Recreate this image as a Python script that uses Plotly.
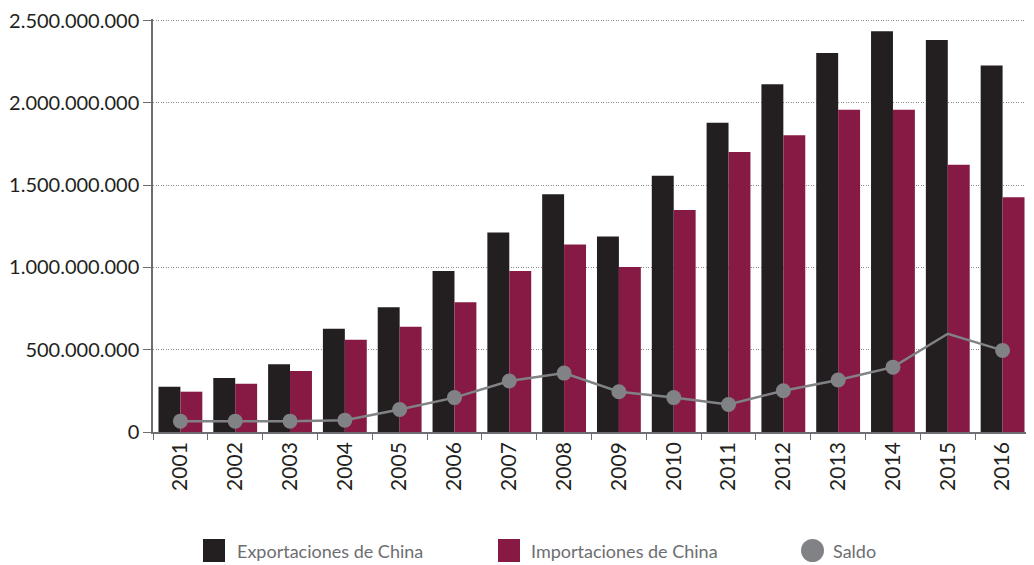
import plotly.graph_objects as go

years = [str(y) for y in range(2001, 2017)]
exportaciones = [275e6, 328e6, 412e6, 627e6, 758e6, 979e6, 1212e6, 1445e6,
                 1188e6, 1558e6, 1880e6, 2113e6, 2304e6, 2436e6, 2382e6, 2227e6]
importaciones = [245e6, 293e6, 370e6, 561e6, 639e6, 788e6, 979e6, 1140e6,
                 1003e6, 1349e6, 1701e6, 1803e6, 1958e6, 1958e6, 1624e6, 1427e6]
saldo = [66e6, 66e6, 66e6, 72e6, 137e6, 209e6, 310e6, 358e6,
         245e6, 209e6, 167e6, 251e6, 316e6, 394e6, 597e6, 496e6]
saldo_marker_size = [15] * 14 + [0, 15]
ytick_vals = [0, 500e6, 1000e6, 1500e6, 2000e6, 2500e6]

C_EXP = "#231f20"
C_IMP = "#861a45"
C_SAL = "#808285"
FONT = "Lato, 'Open Sans', sans-serif"

fig = go.Figure()
fig.add_trace(go.Bar(x=years, y=exportaciones, name="Exportaciones de China",
                     marker=dict(color=C_EXP, line=dict(width=0))))
fig.add_trace(go.Bar(x=years, y=importaciones, name="Importaciones de China",
                     marker=dict(color=C_IMP, line=dict(width=0))))
fig.add_trace(go.Scatter(x=years, y=saldo, name="Saldo", mode="lines+markers",
                         line=dict(color=C_SAL, width=2.5),
                         marker=dict(color=C_SAL, size=saldo_marker_size,
                                     opacity=1, line=dict(width=0))))

# page has an 8px body margin around the figure
OFF = 8
W, H = 1034, 565
ml, mr, mt, mb = 145, 12, 11, 141
pw, ph = W - ml - mr, H - mt - mb

def px(x):
    return (x - OFF - ml) / pw

def py(y):
    return (H - mb - (y - OFF)) / ph

shapes = []
annotations = []
legend_items = [
    ("rect", C_EXP, 203, 225, "Exportaciones de China", 235),
    ("rect", C_IMP, 498, 520, "Importaciones de China", 529),
    ("circle", C_SAL, 801, 824, "Saldo", 831),
]
for kind, col, x0, x1, label, tx in legend_items:
    shapes.append(dict(type=kind, xref="paper", yref="paper",
                       x0=px(x0), x1=px(x1), y0=py(562), y1=py(539),
                       fillcolor=col, line=dict(width=0)))
    annotations.append(dict(text=label, xref="paper", yref="paper",
                            x=px(tx), y=py(551), xanchor="left", yanchor="middle",
                            showarrow=False,
                            font=dict(family=FONT, size=18, color="#6d6e71")))

fig.update_layout(
    width=W, height=H,
    margin=dict(l=ml, r=mr, t=mt, b=mb),
    plot_bgcolor="white", paper_bgcolor="white",
    barmode="group", bargap=0.2, bargroupgap=0,
    separators=",.",
    showlegend=False,
    font=dict(family=FONT, color="#231f20"),
    shapes=shapes, annotations=annotations,
    xaxis=dict(type="category", range=[-0.5, 15.5],
               showline=True, linecolor="#6d6e71", linewidth=1.5,
               ticks="outside", tickson="boundaries", ticklen=6, tickcolor="#6d6e71",
               tickangle=-90, tickfont=dict(size=21, color="#231f20", family=FONT),
               showgrid=False, automargin=False),
    yaxis=dict(range=[0, 2.51e9], tickvals=ytick_vals, tickformat=",.0f",
               showline=True, linecolor="#6d6e71", linewidth=1.5,
               ticks="outside", ticklen=8, tickcolor="#6d6e71",
               tickfont=dict(size=20, color="#231f20", family=FONT),
               ticklabeloverflow="allow",
               showgrid=True, gridcolor="#8a8a8a", gridwidth=1, griddash="1px,1.5px",
               zeroline=False, automargin=False),
)

fig.write_html("out.html")
